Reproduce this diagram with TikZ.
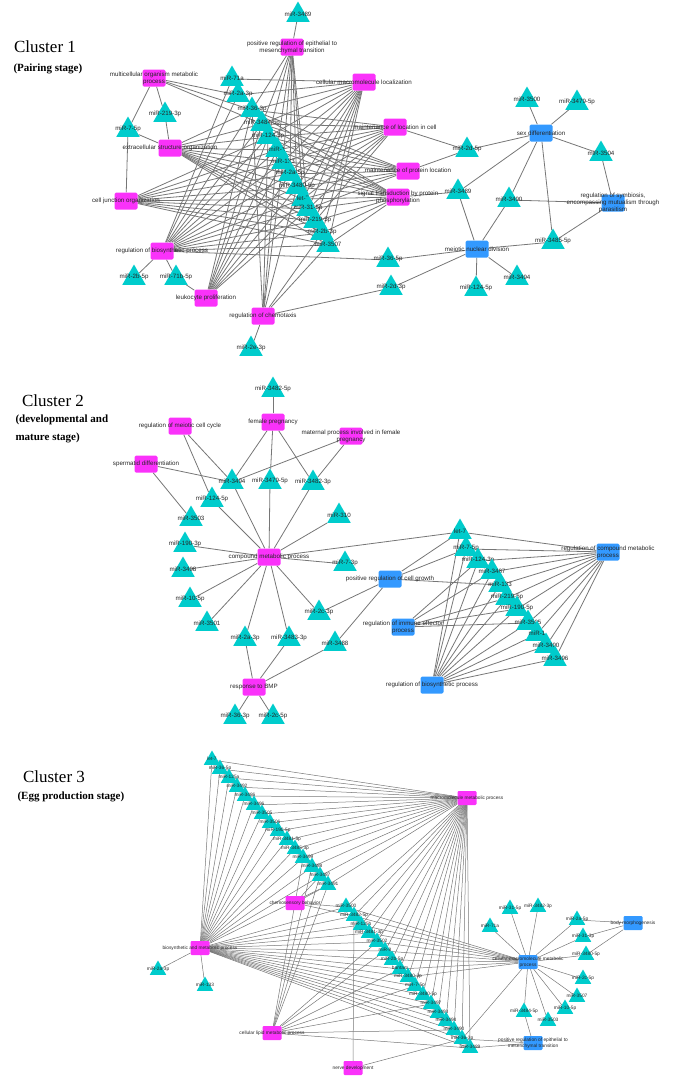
\documentclass[tikz,border=0pt]{standalone}
\usepackage{fontspec}
\setmainfont{Liberation Serif}
\newfontfamily\netfont{Liberation Sans}
\usetikzlibrary{shapes.geometric,backgrounds}

\definecolor{mircol}{RGB}{0,204,204}
\definecolor{gocol}{RGB}{250,50,250}
\definecolor{bpcol}{RGB}{51,153,255}
\definecolor{linkcol}{RGB}{118,118,118}

\tikzset{
  lbl/.style={font=\netfont\fontsize{6.2}{7.2}\selectfont, text=black!85, align=center, inner sep=0pt},
  lbls/.style={font=\netfont\fontsize{4.8}{5.6}\selectfont, text=black!85, align=center, inner sep=0pt},
  mir/.style={regular polygon, regular polygon sides=3, fill=mircol, minimum size=27pt, inner sep=0pt, label={[lbl,yshift=1pt]center:#1}},
  mirs/.style={regular polygon, regular polygon sides=3, fill=mircol, minimum size=19pt, inner sep=0pt, label={[lbls,yshift=1pt]center:#1}},
  gop/.style={rectangle, rounded corners=1.5pt, fill=gocol, minimum width=23pt, minimum height=17pt, inner sep=0pt, label={[lbl]center:{#1}}},
  gob/.style={gop={#1}, fill=bpcol},
  gops/.style={rectangle, rounded corners=1.2pt, fill=gocol, minimum width=19pt, minimum height=14pt, inner sep=0pt, label={[lbls]center:{#1}}},
  gobs/.style={gops={#1}, fill=bpcol},
  link/.style={draw=linkcol, line width=0.8pt},
  thinlink/.style={draw=linkcol, line width=0.5pt},
  ttl/.style={font=\fontsize{17}{19}\selectfont},
  stage/.style={font=\bfseries\fontsize{11}{18}\selectfont, anchor=west, align=left},
}

\begin{document}
\begin{tikzpicture}[x=1pt,y=-1pt]
  \useasboundingbox (0,0) rectangle (685,1080);

  % titles
  \node[ttl] (t1) at (45,47) {Cluster 1};
  \node[stage] (s1) at (10,69) {(Pairing stage)};
  \node[ttl] (t2) at (53,401) {Cluster 2};
  \node[stage] (s2) at (12,429) {(developmental and\\mature stage)};
  \node[ttl] (t3) at (54,777) {Cluster 3};
  \node[stage] (s3) at (14,797) {(Egg production stage)};

  %%% cluster 1
  \node[mir=miR-3489] (a3489t) at (298,15) {};
  \node[gop={positive regulation of epithelial to\\mesenchymal transition}] (aPRE) at (292,47) {};
  \node[gop={multicellular organism metabolic\\process}] (aMOM) at (154,78) {};
  \node[gop=cellular macromolecule localization] (aCML) at (364,82) {};
  \node[mir=miR-71a] (a71a) at (232,79) {};
  \node[mir=miR-2a-3p] (a2a3p) at (238,95) {};
  \node[mir=miR-36-3p] (a36a3p) at (252,110) {};
  \node[mir=miR-219-3p] (a219a3p) at (165,115) {};
  \node[mir=miR-3484-5p] (a3484) at (262,124) {};
  \node[mir=miR-7-5p] (a7a5p) at (128,130) {};
  \node[mir=miR-124-5p] (a124) at (268,137) {};
  \node[gop=extracellular structure organization] (aESO) at (170,148) {};
  \node[mir=miR-1] (a1) at (277,150) {};
  \node[mir=miR-133] (a133) at (283,162) {};
  \node[mir=miR-2a-5p] (a2a5p) at (290,174) {};
  \node[mir=miR-3480-5p] (a3480) at (297,187) {};
  \node[mir=let-7] (alet7) at (303,199) {};
  \node[mir=miR-31-5p] (a31) at (308,209) {};
  \node[mir=miR-219-5p] (a219) at (315,221) {};
  \node[mir=miR-2b-3p] (a2b3p) at (322,233) {};
  \node[mir=miR-3507] (a3507) at (328,245) {};
  \node[gop=maintenance of location in cell] (aMLC) at (395,127) {};
  \node[gop=maintenance of protein location] (aMPL) at (408,171) {};
  \node[gop={signal transduction by protein\\phosphorylation}] (aSTP) at (398,197) {};
  \node[gop=cell junction organization] (aCJO) at (126,201) {};
  \node[gop=regulation of biosynthetic process] (aRBP) at (162,251) {};
  \node[mir=miR-2b-5p] (a2b5p) at (134,278) {};
  \node[mir=miR-71b-5p] (a71b) at (176,278) {};
  \node[gop=leukocyte proliferation] (aLP) at (206,298) {};
  \node[gop=regulation of chemotaxis] (aRC) at (263,316) {};
  \node[mir=miR-2e-3p] (a2e3p) at (251,349) {};
  \node[mir=miR-2d-5p] (a2d5p) at (467,150) {};
  \node[gob=sex differentiation] (aSD) at (541,133) {};
  \node[mir=miR-3500] (a3500) at (527,100) {};
  \node[mir=miR-3479-5p] (a3479) at (577,103) {};
  \node[mir=miR-3504] (a3504) at (601,154) {};
  \node[mir=miR-3489] (a3489b) at (458,192) {};
  \node[mir=miR-3490] (a3490) at (509,200) {};
  \node[gob={regulation of symbiosis,\\encompassing mutualism through\\parasitism}] (aRS) at (613,203) {};
  \node[mir=miR-3485-5p] (a3485) at (553,242) {};
  \node[gob=meiotic nuclear division] (aMND) at (477,249) {};
  \node[mir=miR-36-5p] (a36a5p) at (388,260) {};
  \node[mir=miR-2d-3p] (a2d3p) at (391,288) {};
  \node[mir=miR-124-5p] (a124b) at (476,289) {};
  \node[mir=miR-3494] (a3494) at (517,278) {};

  %%% cluster 2
  \node[mir=miR-3482-5p] (b3482a5p) at (273,390) {};
  \node[gop=female pregnancy] (bFP) at (273,422) {};
  \node[gop=regulation of meiotic cell cycle] (bRMC) at (180,426) {};
  \node[gop={maternal process involved in female\\pregnancy}] (bMP) at (351,436) {};
  \node[gop=spermatid differentiation] (bSD) at (146,464) {};
  \node[mir=miR-3494] (b3494) at (232,482) {};
  \node[mir=miR-3479-5p] (b3479) at (270,482) {};
  \node[mir=miR-3482-3p] (b3482a3p) at (313,483) {};
  \node[mir=miR-124-5p] (b124) at (212,500) {};
  \node[mir=miR-3503] (b3503) at (191,519) {};
  \node[mir=miR-310] (b310) at (339,516) {};
  \node[mir=miR-190-3p] (b190) at (185,545) {};
  \node[gop=compound metabolic process] (bCMP) at (269,557) {};
  \node[mir=miR-3498] (b3498) at (183,570) {};
  \node[mir=miR-7-3p] (b7a3p) at (345,564) {};
  \node[mir=miR-10-5p] (b10) at (190,600) {};
  \node[mir=miR-3501] (b3501) at (207,624) {};
  \node[mir=miR-2c-3p] (b2c3p) at (319,613) {};
  \node[mir=miR-2a-3p] (b2a3p) at (245,639) {};
  \node[mir=miR-3483-3p] (b3483) at (289,639) {};
  \node[mir=miR-3488] (b3488) at (335,644) {};
  \node[gop=response to BMP] (bBMP) at (254,687) {};
  \node[mir=miR-36-3p] (b36a3p) at (235,717) {};
  \node[mir=miR-2c-5p] (b2c5p) at (273,717) {};
  \node[mir=let-7] (blet7) at (460,532) {};
  \node[mir=miR-7-5p] (b7a5p) at (466,549) {};
  \node[mir=miR-124-3p] (b124a3p) at (478,561) {};
  \node[mir=miR-3487] (b3487) at (492,572) {};
  \node[mir=miR-133] (b133) at (500,585) {};
  \node[mir=miR-219-5p] (b219) at (507,598) {};
  \node[mir=miR-190-5p] (b190a5p) at (517,609) {};
  \node[mir=miR-3505] (b3505) at (528,623) {};
  \node[mir=miR-1] (b1) at (537,634) {};
  \node[mir=miR-3490] (b3490) at (546,646) {};
  \node[mir=miR-3496] (b3496) at (555,659) {};
  \node[gob={regulation of compound metabolic\\process}] (bRCMP) at (608,552) {};
  \node[gob=positive regulation of cell growth] (bPRCG) at (390,579) {};
  \node[gob={regulation of immune effector\\process}] (bRIEP) at (403,627) {};
  \node[gob=regulation of biosynthetic process] (bRBP) at (432,685) {};

  %%% cluster 3
  \node[mirs=let-7] (clet7) at (212,760) {};
  \node[mirs=miR-36-5p] (c36a5p) at (220,769) {};
  \node[mirs=miR-125a] (c125a) at (229,778) {};
  \node[mirs=miR-3492] (c3492) at (237,787) {};
  \node[mirs=miR-3486] (c3486) at (245,796) {};
  \node[mirs=miR-3496] (c3496) at (254,805) {};
  \node[mirs=miR-3505] (c3505) at (262,814) {};
  \node[mirs=miR-3506] (c3506) at (270,823) {};
  \node[mirs=miR-190-5p] (c190) at (278,831) {};
  \node[mirs=miR-3481-5p] (c3481a5p) at (287,840) {};
  \node[mirs=miR-3485-3p] (c3485) at (295,849) {};
  \node[mirs=miR-3499] (c3499) at (303,858) {};
  \node[mirs=miR-3488] (c3488) at (312,867) {};
  \node[mirs=miR-3487] (c3487) at (320,876) {};
  \node[mirs=miR-3491] (c3491) at (328,885) {};
  \node[gops=macromolecule metabolic process] (cMMP) at (467,798) {};
  \node[gops=chemosensory behavior] (cCSB) at (295,903) {};
  \node[gops=biosynthetic and metabolic process] (cBMP) at (200,948) {};
  \node[mirs=miR-2a-3p] (c2a3p) at (158,970) {};
  \node[mirs=miR-133] (c133) at (205,986) {};
  \node[mirs=miR-3500] (c3500) at (346,907) {};
  \node[mirs=miR-3482-5p] (c3482a5p) at (354,916) {};
  \node[mirs=miR-125b] (c125b) at (361,925) {};
  \node[mirs=miR-3481-3p] (c3481a3p) at (369,933) {};
  \node[mirs=miR-3502] (c3502) at (377,942) {};
  \node[mirs=miR-8] (c8) at (385,951) {};
  \node[mirs=miR-2b-5p] (c2b5p) at (392,960) {};
  \node[mirs=bantam] (cbantam) at (400,969) {};
  \node[mirs=miR-3480-3p] (c3480a3p) at (408,977) {};
  \node[mirs=miR-7-5p] (c7a5p) at (415,986) {};
  \node[mirs=miR-3480-5p] (c3480a5p) at (423,995) {};
  \node[mirs=miR-3497] (c3497) at (431,1004) {};
  \node[mirs=miR-3493] (c3493) at (438,1013) {};
  \node[mirs=miR-3494] (c3494) at (446,1021) {};
  \node[mirs=miR-3490] (c3490) at (454,1030) {};
  \node[mirs=miR-36-3p] (c36a3p) at (462,1039) {};
  \node[mirs=miR-3489] (c3489) at (470,1048) {};
  \node[gops=cellular lipid metabolic process] (cCLMP) at (272,1033) {};
  \node[gops=nerve development] (cND) at (353,1068) {};
  \node[gobs={cellular macromolecule metabolic\\process}] (cCMMP) at (528,962) {};
  \node[mirs=miR-71a] (c71a) at (490,927) {};
  \node[mirs=miR-31-5p] (c31a5p) at (510,909) {};
  \node[mirs=miR-3482-3p] (c3482a3p) at (538,907) {};
  \node[mirs=miR-2a-5p] (c2a5p) at (577,920) {};
  \node[mirs=miR-31-3p] (c31a3p) at (583,937) {};
  \node[mirs=miR-3480-5p] (c3480b) at (586,955) {};
  \node[gobs=body morphogenesis] (cBM) at (633,923) {};
  \node[mirs=miR-2c-5p] (c2c5p) at (583,979) {};
  \node[mirs=miR-3507] (c3507) at (577,997) {};
  \node[mirs=miR-10-5p] (c10) at (565,1009) {};
  \node[mirs=miR-3503] (c3503) at (548,1021) {};
  \node[mirs=miR-3484-5p] (c3484) at (524,1012) {};
  \node[gobs={positive regulation of epithelial to\\mesenchymal transition}] (cPRE) at (533,1043) {};

  \begin{scope}[on background layer]
    % cluster 1 links
    \foreach \g/\ms in {aPRE/{a3489t,a36a3p,a3484,a124,a1,a133,a2a5p,a3480,alet7,a31},
      aMOM/{a7a5p,a219a3p,a2a3p,a36a3p,a3484},
      aCML/{a71a,a2a3p,a36a3p,a3484,a124,a1,a133,a2a5p,a3480,alet7,a31,a219,a2b3p,a3507},
      aESO/{a7a5p,a219a3p,a36a3p,a3484,a124,a1,a133,a2a5p,a3480,alet7,a31,a219,a2b3p,a3507},
      aCJO/{a7a5p,a124,a1,a133,a2a5p,a3480,alet7,a31,a219,a2b3p,a3507},
      aRBP/{a71a,a2a3p,a36a3p,a3484,a124,a1,a133,a2a5p,a3480,alet7,a31,a219,a2b3p,a3507,a36a5p,a2b5p,a71b},
      aLP/{a71b,a36a3p,a3484,a124,a1,a133,a2a5p,a3480,alet7,a31},
      aRC/{a2e3p,a36a3p,a124,a1,a133,a3480,a2b3p,a3507,a2d3p},
      aMLC/{a2d5p,a36a3p,a3484,a124,a1,a133,a2a5p,a3480,alet7,a31,a219},
      aMPL/{a2d5p,a36a3p,a3484,a124,a1,a133,a2a5p,a3480,alet7,a31},
      aSTP/{a3489b,a36a3p,a3484,a124,a1,a133,a2a5p,a3480,alet7,a31,a219,a2b3p,a3507},
      aSD/{a2d5p,a3500,a3479,a3504,a3489b,a3490,a3485},
      aRS/{a3504,a3490,a3485},
      aMND/{a3489b,a3490,a3485,a3494,a124b,a36a5p,a2d3p}}
      \foreach \m in \ms {\draw[link] (\g) -- (\m);}
    % cluster 2 links
    \foreach \g/\ms in {bFP/{b3482a5p,b3494,b3479,b3482a3p},
      bRMC/{b3494,b124},
      bMP/{b3494,b3482a3p},
      bSD/{b3494,b3503},
      bCMP/{b3494,b3479,b3482a3p,b124,b310,b190,b3498,b7a3p,b10,b3501,b2c3p,b2a3p,b3483,blet7},
      bBMP/{b2a3p,b3483,b3488,b36a3p,b2c5p},
      bPRCG/{blet7,b7a5p,b133,b2c3p,b3488},
      bRCMP/{blet7,b7a5p,b124a3p,b3487,b133,b219,b190a5p,b3505,b1,b3490,b3496},
      bRIEP/{b124a3p,b3487,b219,b190a5p,b3505},
      bRBP/{blet7,b7a5p,b124a3p,b3487,b133,b219,b190a5p,b3505,b1,b3490,b3496}}
      \foreach \m in \ms {\draw[link] (\g) -- (\m);}
    % cluster 3 links
    \foreach \g in {cMMP,cBMP}
      \foreach \m in {clet7,c36a5p,c125a,c3492,c3486,c3496,c3505,c3506,c190,c3481a5p,c3485,c3499,c3488,c3487,c3491,
        c3500,c3482a5p,c125b,c3481a3p,c3502,c8,c2b5p,cbantam,c3480a3p,c7a5p,c3480a5p,c3497,c3493,c3494,c3490,c36a3p,c3489}
        {\draw[thinlink] (\g) -- (\m);}
    \foreach \g/\ms in {cBMP/{c2a3p,c133},
      cCSB/{c3491,c3487,c3500,c3482a5p},
      cCLMP/{c3499,c3488,c3487,c3491,c3502,c8,cbantam,c7a5p,c3497,c3490,c3489},
      cND/{c3482a5p,c36a3p},
      cCMMP/{c71a,c31a5p,c3482a3p,c2a5p,c31a3p,c3480b,c2c5p,c3507,c10,c3503,c3484,c3500,c3482a5p,c125b,c3481a3p,c3502,c8,c2b5p,cbantam,c3480a3p,c36a3p},
      cBM/{c2a5p,c31a3p,c3480b},
      cPRE/{c3484,c36a3p,c3489}}
      \foreach \m in \ms {\draw[thinlink] (\g) -- (\m);}
  \end{scope}
\end{tikzpicture}
\end{document}
